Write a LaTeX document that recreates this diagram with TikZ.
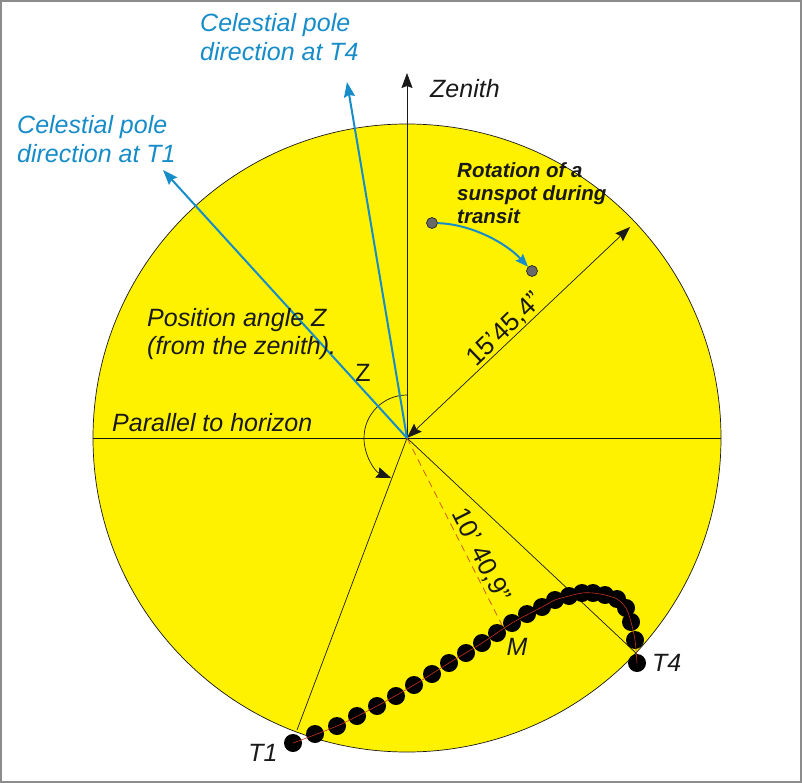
\documentclass[tikz,border=0pt]{standalone}
\usepackage{fontspec}
\setmainfont{Liberation Sans}
\usetikzlibrary{arrows.meta}
\definecolor{sunyellow}{RGB}{255,242,0}
\definecolor{poleblue}{RGB}{22,140,200}
\definecolor{trackred}{RGB}{200,50,30}
\definecolor{dashred}{RGB}{215,90,20}
\definecolor{framegray}{RGB}{140,140,140}
\definecolor{spotgray}{RGB}{105,105,105}
\definecolor{inkdark}{RGB}{25,25,25}
\tikzset{
  thinline/.style={draw=inkdark, line width=0.7pt},
  blackhead/.style={-{Stealth[length=15pt,width=11pt,inset=2pt]}},
  blueline/.style={draw=poleblue, line width=2pt},
  bluehead/.style={-{Stealth[length=15pt,width=11pt,inset=2pt]}},
  bluetext/.style={text=poleblue, font=\fontsize{25}{29}\selectfont\itshape, align=left, inner sep=0pt},
  labeltext/.style={text=inkdark, font=\fontsize{25}{27.5}\selectfont\itshape, align=left, inner sep=0pt},
  dimtext/.style={text=inkdark, font=\fontsize{26}{30}\selectfont, inner sep=1pt},
  spot/.style={circle, fill=spotgray, draw=inkdark, line width=0.6pt, minimum size=11pt, inner sep=0pt},
  trackdot/.style={fill=black},
}
\begin{document}
\begin{tikzpicture}[x=1pt,y=-1pt]
\useasboundingbox (0,0) rectangle (802,783);
% frame
\draw[framegray, line width=1.5pt] (1,1) rectangle (801,782);
% sun disc
\coordinate (C) at (407,438);
\fill[sunyellow] (C) circle[radius=314pt];
\draw[thinline] (C) circle[radius=314pt];
% key points
\coordinate (Ztip) at (407,73);
\coordinate (H1) at (93,438);
\coordinate (H2) at (721,438);
\coordinate (B1) at (297,730);
\coordinate (B4) at (637,654);
\coordinate (R) at (630,227);
\coordinate (P4) at (347,82);
\coordinate (P1) at (163,170);
\coordinate (Mpt) at (503,627);
% lines
\draw[thinline] (H1) -- (H2);
\draw[thinline] (C) -- (B1);
\draw[thinline] (C) -- (B4);
\draw[thinline, blackhead] (C) -- (Ztip);
\draw[thinline, {Stealth[length=15pt,width=11pt,inset=2pt]}-{Stealth[length=15pt,width=11pt,inset=2pt]}] (C) -- (R);
\draw[dashred, line width=0.8pt, dash pattern=on 7pt off 5pt] (C) -- (Mpt);
% angle arc
\draw[thinline, blackhead] (407,395) arc[start angle=90, end angle=248.5, radius=43pt];
% pole directions
\draw[blueline, bluehead] (C) -- (P4);
\draw[blueline, bluehead] (C) -- (P1);
% track
\foreach \x/\y [count=\i] in {293/743,315/734,337/726,357/716,377/706,396/696,414/685,432/674,449/663,466/653,482/643,497/633,512/623,527/614,542/607,555/600,569/596,582/593,593/593,605/595,617/599,626/608,631/622,635/640,637/663}{
  \coordinate (t\i) at (\x,\y);
  \fill[trackdot] (t\i) circle[radius=9pt];
}
\draw[trackred, line width=0.6pt] plot[smooth, tension=0.5] coordinates {(t1) (t3) (t5) (t7) (t9) (t11) (t13) (t15) (t16) (t17) (t18) (t19) (t20) (t21) (t22) (t23) (t24) (t25)};
% sunspot
\node[spot] (S1) at (432,223) {};
\node[spot] (S2) at (532,271) {};
\draw[blueline, -{Stealth[length=13pt,width=10pt,inset=2pt]}] (S1) .. controls (470,224) and (505,242) .. (S2);
% texts
\node[bluetext, anchor=west] (tT4) at (200,37) {Celestial pole\\direction at T4};
\node[bluetext, anchor=west] (tT1) at (17,139) {Celestial pole\\direction at T1};
\node[labeltext, anchor=west] (tZen) at (430,89) {Zenith};
\node[text=inkdark, font=\fontsize{20.5}{23.3}\selectfont\bfseries\itshape, align=left, inner sep=0pt, anchor=west] (tRot) at (457,193) {Rotation of a\\sunspot during\\transit};
\node[labeltext, anchor=west] (tPos) at (147,334) {Position angle Z\\(from the zenith).};
\node[text=inkdark, font=\fontsize{25}{28}\selectfont, inner sep=0pt] (tZ) at (363,373) {Z};
\node[labeltext, anchor=west] (tPar) at (112,423) {Parallel to horizon};
\node[dimtext, rotate=44, anchor=south] (tR) at (513,338) {15’45,4”};
\node[dimtext, rotate=-63.1, anchor=south] (tM) at (470,561) {10’ 40,9”};
\node[labeltext] (lM) at (517,647) {M};
\node[labeltext] (lT1) at (263,753) {T1};
\node[labeltext, anchor=west] (lT4) at (652,663) {T4};
\end{tikzpicture}
\end{document}
